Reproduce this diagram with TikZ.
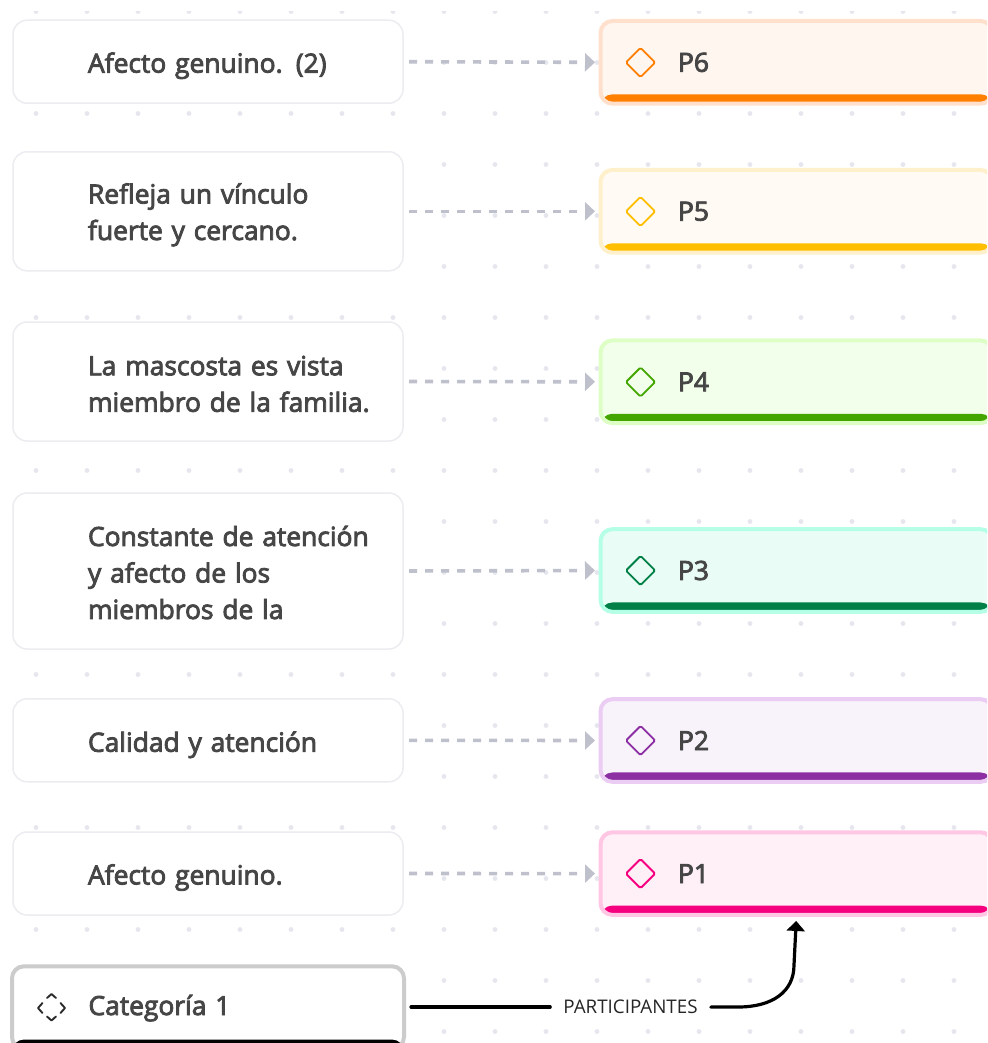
\documentclass[tikz,border=0pt]{standalone}
\usepackage{fontspec}
\setmainfont{Open Sans}[FakeBold=3.2,WordSpace=0.85]
\newfontfamily\lightfont{Open Sans}
\usetikzlibrary{arrows.meta,shapes.geometric}
\definecolor{dotc}{HTML}{E6E6EE}
\definecolor{dashc}{HTML}{BEC0CC}
\definecolor{txtc}{HTML}{464646}
\definecolor{edgec}{HTML}{ECECF1}
\definecolor{catc}{HTML}{CCCCCC}
\definecolor{fa}{HTML}{FFEFF7}\definecolor{ea}{HTML}{FFC7E3}\definecolor{ba}{HTML}{F5007F}
\definecolor{fb}{HTML}{F8F2FB}\definecolor{eb}{HTML}{EBCCF2}\definecolor{bb}{HTML}{8C2FA3}
\definecolor{fc}{HTML}{E9FDF6}\definecolor{ec}{HTML}{B5FFE6}\definecolor{bc}{HTML}{008046}
\definecolor{fd}{HTML}{F2FFEB}\definecolor{ed}{HTML}{DDFFC6}\definecolor{bd}{HTML}{43A600}
\definecolor{fe}{HTML}{FFFAF3}\definecolor{ee}{HTML}{FFF0CC}\definecolor{be}{HTML}{FFBF00}
\definecolor{ff}{HTML}{FFF6F0}\definecolor{ef}{HTML}{FFE0CC}\definecolor{bf}{HTML}{FF7F00}
\newcommand{\tl}[2]{\hspace*{75pt}\raisebox{-#1pt}[\height][\depth]{#2}}
\tikzset{
 leftbox/.style={draw=edgec,line width=1.5pt,fill=white,rounded corners=14pt,minimum width=390pt,text width=390pt,inner sep=0pt,outer sep=0pt,align=left,text=txtc,font=\fontsize{26.4}{36.5}\selectfont},
 pbox/.style n args={3}{draw=#2,fill=#1,line width=4pt,rounded corners=12pt,minimum width=392pt,minimum height=82.7pt,text width=392pt,inner sep=0pt,outer sep=0pt,align=left,text=txtc,font=\fontsize{26.4}{30}\selectfont,
   path picture={\fill[#3] ([yshift=9.4pt]path picture bounding box.south west) rectangle (path picture bounding box.south east);}},
 icon/.style={diamond,draw=#1,fill=none,line width=1.9pt,minimum width=30pt,minimum height=30pt,inner sep=0pt,aspect=1,rounded corners=1.5pt},
 linkdash/.style={draw=dashc,line width=3.6pt,dash pattern=on 8pt off 8pt,-{Triangle[length=10pt,width=18pt]},shorten <=6pt,shorten >=5.5pt},
 linkmain/.style={draw=black,line width=3.2pt,line cap=round},
 chev/.style={draw=txtc!60!black,line width=1.9pt,line cap=round,line join=round}
}
\begin{document}
\begin{tikzpicture}[x=1pt,y=-1pt]
\path[use as bounding box,fill=white] (0,0) rectangle (987,1043);
\clip (0,0) rectangle (987,1043);
\foreach \i in {0,...,18}{\foreach \j in {0,...,20}{\fill[dotc] ({36+51*\i},{11.5+51*\j}) circle (2.4pt);}}
\fill[white] (0,0) rectangle (987,10.7);
% left boxes
\node[leftbox,minimum height=83pt] (a6) at (208,61.7) {\tl{4}{Afecto genuino. (2)}};
\node[leftbox,minimum height=119pt] (a5) at (208,211.3) {\tl{3.5}{Refleja un vínculo}\\\tl{3.5}{fuerte y cercano.}};
\node[leftbox,minimum height=119pt] (a4) at (208,381.5) {\tl{2.5}{La mascosta es vista}\\\tl{2.5}{miembro de la familia.}};
\node[leftbox,minimum height=156pt] (a3) at (208,571) {\tl{1.5}{Constante de atención}\\\tl{1.5}{y afecto de los}\\\tl{1.5}{miembros de la}};
\node[leftbox,minimum height=83pt] (a2) at (208,740.3) {\tl{4.5}{Calidad y atención}};
\node[leftbox,minimum height=83pt] (a1) at (208,873.5) {\tl{4}{Afecto genuino.}};
% right boxes
\node[pbox={ff}{ef}{bf}] (p6) at (796.5,62.35) {\tl{0}{\hspace*{2.5pt}P6}};
\node[pbox={fe}{ee}{be}] (p5) at (796.5,211.3) {\tl{0}{\hspace*{2.5pt}P5}};
\node[pbox={fd}{ed}{bd}] (p4) at (796.5,381.8) {\tl{0}{\hspace*{2.5pt}P4}};
\node[pbox={fc}{ec}{bc}] (p3) at (796.5,570.5) {\tl{0}{\hspace*{2.5pt}P3}};
\node[pbox={fb}{eb}{bb}] (p2) at (796.5,740.5) {\tl{0}{\hspace*{2.5pt}P2}};
\node[pbox={fa}{ea}{ba}] (p1) at (796.5,873.6) {\tl{0}{\hspace*{2.5pt}P1}};
% diamonds
\node[icon=bf] (d6) at (640.5,62.5) {};
\node[icon=be] (d5) at (640.5,211.5) {};
\node[icon=bd] (d4) at (640.5,382) {};
\node[icon=bc] (d3) at (640.5,570.5) {};
\node[icon=bb] (d2) at (640.5,740.5) {};
\node[icon=ba] (d1) at (640.5,873.6) {};
% category
\node[pbox={white}{catc}{black}] (cat) at (208,1007.6) {\tl{0.5}{\hspace*{1.5pt}Categoría 1}};
\draw[chev] (42.5,1003) -- (38,1008) -- (42.5,1013);
\draw[chev] (60.5,1003) -- (65,1008) -- (60.5,1013);
\draw[chev] (47,998) -- (51.5,994) -- (56,998);
\draw[chev] (47,1016.5) -- (51.5,1020.5) -- (56,1016.5);
% connectors
\foreach \k in {1,...,6}{\draw[linkdash] (a\k.east) -- (p\k.west);}
\node[fill=white,inner xsep=13pt,inner ysep=4pt,text=black!85,font=\lightfont\fontsize{18.8}{22}\selectfont] (lab) at (630.5,1007) {PARTICIPANTES};
\coordinate (bend) at (794,965);
\draw[linkmain,shorten <=7pt] (cat.east |- lab) -- (lab.west);
\draw[linkmain,-{Triangle[length=10pt,width=18pt]},shorten >=6pt] (lab.east) -- (738,1007) .. controls (772,1007) and (794,992) .. (bend) -- (p1.south);
\end{tikzpicture}
\end{document}
